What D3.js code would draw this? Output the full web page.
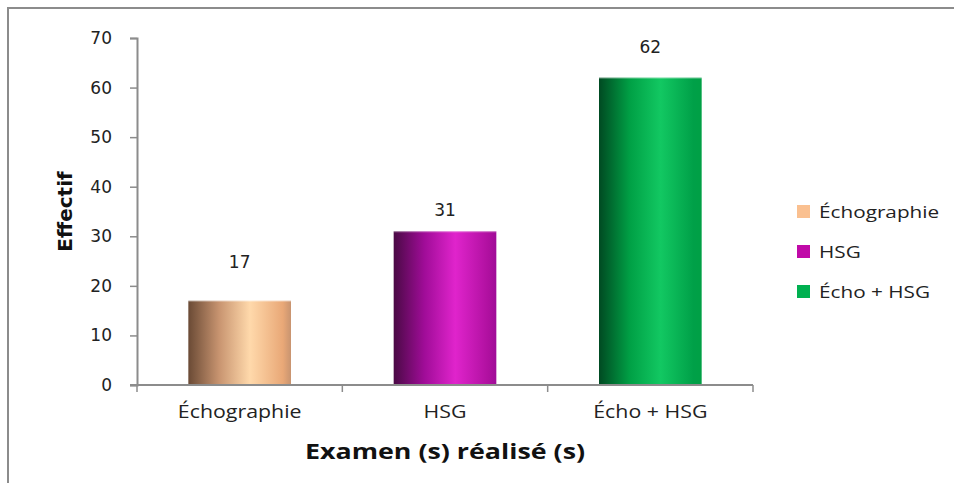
<!DOCTYPE html>
<html>
<head>
<meta charset="utf-8">
<script src="https://cdn.jsdelivr.net/npm/d3@7"></script>
<style>
  body { margin: 0; background: #fff; }
  svg { display: block; }
</style>
</head>
<body>
<div id="chart"></div>
<script>
// data
const categories = ['Échographie', 'HSG', 'Écho + HSG'];
const values = [17, 31, 62];
const yTicks = [0, 10, 20, 30, 40, 50, 60, 70];
const legendLabels = ['Échographie', 'HSG', 'Écho + HSG'];

// [dark edge, mid, highlight, right edge] per series
const barStops = [
    ['#6a4a35', '#c89470', '#ffd9ab', '#e9a877'],
    ['#4a0a45', '#a00c98', '#e024cc', '#b010a0'],
    ['#004a22', '#00a045', '#12c862', '#00a048']
];
const legendColors = ['#fac090', '#c00aa8', '#00b050'];

const width = 954, height = 491;
const margin = { top: 38, left: 137, bottom: 106, right: 201 };
const textFont = 'Open Sans, DejaVu Sans, sans-serif';
const numFont = 'DejaVu Sans, Verdana, sans-serif';
const stretch = 1.22; // the source text is widened horizontally

const svg = d3.select('#chart').append('svg')
    .attr('width', width)
    .attr('height', height);

// outer frame (only top and left visible)
svg.append('path')
    .attr('d', `M8,${height - 8} L8,8 L${width},8`)
    .attr('fill', 'none')
    .attr('stroke', '#8c8c8c')
    .attr('stroke-width', 2);

const defs = svg.append('defs');
barStops.forEach((stops, i) => {
    const g = defs.append('linearGradient')
        .attr('id', 'grad' + i)
        .attr('x1', '0%').attr('x2', '100%')
        .attr('y1', '0%').attr('y2', '0%');
    g.append('stop').attr('offset', '0%').attr('stop-color', stops[0]);
    g.append('stop').attr('offset', '30%').attr('stop-color', stops[1]);
    g.append('stop').attr('offset', '60%').attr('stop-color', stops[2]);
    g.append('stop').attr('offset', '92%').attr('stop-color', stops[3]);
    g.append('stop').attr('offset', '100%').attr('stop-color', stops[1]);
});

const x = d3.scaleBand()
    .domain(categories)
    .range([margin.left, width - margin.right])
    .paddingInner(0.5)
    .paddingOuter(0.25);

const y = d3.scaleLinear()
    .domain([0, 70])
    .range([height - margin.bottom, margin.top]);

// y axis
const yAxis = svg.append('g')
    .attr('transform', `translate(${margin.left},0)`)
    .call(d3.axisLeft(y).tickValues(yTicks).tickSize(7).tickPadding(18));
yAxis.select('.domain').attr('stroke', '#8c8c8c').attr('stroke-width', 2);
yAxis.selectAll('.tick line').attr('stroke', '#8c8c8c').attr('stroke-width', 1.5);
yAxis.selectAll('.tick text')
    .attr('font-family', numFont)
    .attr('font-size', 17)
    .attr('fill', '#222');

// bars
svg.append('g')
    .selectAll('rect')
    .data(values)
    .enter()
    .append('rect')
    .attr('x', (d, i) => x(categories[i]))
    .attr('y', d => y(d))
    .attr('width', x.bandwidth())
    .attr('height', d => y(0) - y(d))
    .attr('fill', (d, i) => `url(#grad${i})`);

// thin highlight at bar tops
svg.append('g')
    .selectAll('line')
    .data(values)
    .enter()
    .append('line')
    .attr('x1', (d, i) => x(categories[i]))
    .attr('x2', (d, i) => x(categories[i]) + x.bandwidth())
    .attr('y1', d => y(d) + 0.5)
    .attr('y2', d => y(d) + 0.5)
    .attr('stroke', '#ffffff')
    .attr('stroke-opacity', 0.35);

// x axis with category-boundary ticks
const step = x.step();
const xBounds = d3.range(categories.length + 1).map(i => margin.left + i * step);
const xAxisG = svg.append('g');
xAxisG.append('line')
    .attr('x1', margin.left - 7)
    .attr('x2', width - margin.right)
    .attr('y1', y(0)).attr('y2', y(0))
    .attr('stroke', '#8c8c8c')
    .attr('stroke-width', 2);
xAxisG.selectAll('.xt')
    .data(xBounds)
    .enter()
    .append('line')
    .attr('x1', d => d).attr('x2', d => d)
    .attr('y1', y(0)).attr('y2', y(0) + 7)
    .attr('stroke', '#8c8c8c')
    .attr('stroke-width', 1.5);

xAxisG.selectAll('text')
    .data(categories)
    .enter()
    .append('text')
    .attr('transform', d => `translate(${x(d) + x.bandwidth() / 2},${y(0) + 33}) scale(${stretch},1)`)
    .attr('text-anchor', 'middle')
    .attr('font-family', textFont)
    .attr('font-size', 17.5)
    .attr('fill', '#222')
    .text(d => d);

// value labels (gap above each bar as placed in the source)
const labelGap = [33, 15, 25];
svg.append('g')
    .selectAll('text')
    .data(values)
    .enter()
    .append('text')
    .attr('x', (d, i) => x(categories[i]) + x.bandwidth() / 2)
    .attr('y', (d, i) => y(d) - labelGap[i])
    .attr('text-anchor', 'middle')
    .attr('font-family', numFont)
    .attr('font-size', 17)
    .attr('fill', '#222')
    .text(d => d);

// axis titles
svg.append('text')
    .attr('transform', `translate(${x(categories[1]) + x.bandwidth() / 2},459) scale(${stretch},1)`)
    .attr('text-anchor', 'middle')
    .attr('font-family', textFont)
    .attr('font-weight', 'bold')
    .attr('font-size', 22)
    .attr('fill', '#111')
    .text('Examen (s) réalisé (s)');

svg.append('text')
    .attr('transform', `translate(72,${(y(0) + y(70)) / 2}) rotate(-90)`)
    .attr('text-anchor', 'middle')
    .attr('font-family', numFont)
    .attr('font-weight', 'bold')
    .attr('font-size', 20)
    .attr('fill', '#111')
    .text('Effectif');

// legend
const legend = svg.append('g')
    .attr('transform', 'translate(797,212)');
const rows = legend.selectAll('g')
    .data(legendLabels)
    .enter()
    .append('g')
    .attr('transform', (d, i) => `translate(0,${i * 40})`);
rows.append('rect')
    .attr('x', 0).attr('y', -7)
    .attr('width', 13).attr('height', 13)
    .attr('fill', (d, i) => legendColors[i]);
rows.append('text')
    .attr('transform', `translate(22,6) scale(${stretch},1)`)
    .attr('font-family', textFont)
    .attr('font-size', 17)
    .attr('fill', '#222')
    .text(d => d);
</script>
</body>
</html>
